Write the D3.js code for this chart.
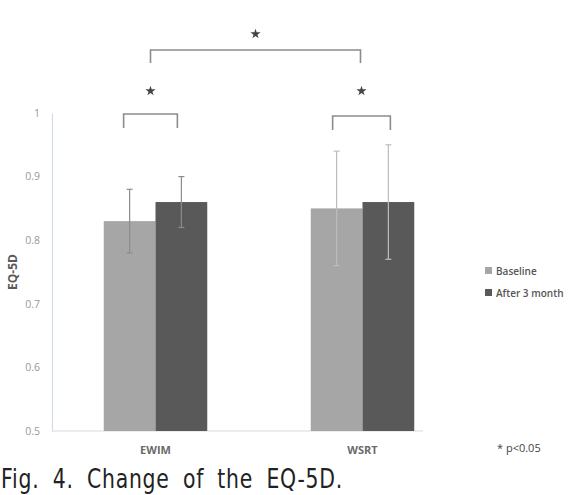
<!DOCTYPE html>
<html>
<head>
<meta charset="utf-8">
<script src="https://cdn.jsdelivr.net/npm/d3@7"></script>
<style>
  body { margin: 0; background: #fff; }
  svg { display: block; }
</style>
</head>
<body>
<div id="chart-area"></div>
<script>
// data
var groups = ["EWIM", "WSRT"];
var seriesNames = ["Baseline", "After 3 month"];
var baselineVals = [0.83, 0.85];
var afterVals = [0.86, 0.86];
var baselineErr = [0.05, 0.09];
var afterErr = [0.04, 0.09];
var yTicks = [0.5, 0.6, 0.7, 0.8, 0.9, 1];

var width = 574, height = 495;
var colors = ["#a6a6a6", "#595959"];

var svg = d3.select("#chart-area").append("svg")
    .attr("width", width)
    .attr("height", height);

// Scales
var x = d3.scaleBand().domain(groups).range([52, 466]).paddingInner(0.5).paddingOuter(0.25);
var xs = d3.scaleBand().domain(seriesNames).range([0, x.bandwidth()]);
var y = d3.scaleLinear().domain([0.5, 1]).range([431, 113]);

// y axis
var yAxis = d3.axisLeft(y).tickValues(yTicks).tickSize(0).tickPadding(12)
    .tickFormat(d => d === 1 ? "1" : d3.format(".1f")(d));
var yg = svg.append("g").attr("transform", "translate(52,0)").call(yAxis);
yg.select(".domain").attr("stroke", "#cfdbe6").attr("stroke-width", 1.2);
yg.selectAll("text").attr("fill", "#999").style("font-family", "Open Sans, sans-serif").style("font-size", "10.5px");

// bottom line
svg.append("line").attr("x1", 52).attr("x2", 423).attr("y1", y(0.5)).attr("y2", y(0.5))
    .attr("stroke", "#d9d9d9").attr("stroke-width", 1);

var rows = groups.map((g, i) => ({
    group: g,
    vals: [
        { s: seriesNames[0], v: baselineVals[i], e: baselineErr[i] },
        { s: seriesNames[1], v: afterVals[i], e: afterErr[i] }
    ]
}));

var gg = svg.selectAll("g.grp").data(rows).enter().append("g")
    .attr("class", "grp")
    .attr("transform", d => `translate(${x(d.group)},0)`);

gg.selectAll("rect").data(d => d.vals).enter().append("rect")
    .attr("x", d => xs(d.s))
    .attr("width", xs.bandwidth())
    .attr("y", d => y(d.v))
    .attr("height", d => y(0.5) - y(d.v))
    .attr("fill", (d, i) => colors[i]);

// error bars
var errColor = (gi) => gi === 0 ? "#8c8c8c" : "#bdbdbd";
gg.each(function(row, gi) {
    var g = d3.select(this);
    row.vals.forEach(function(d) {
        var cx = xs(d.s) + xs.bandwidth() / 2;
        var c = errColor(gi);
        g.append("line").attr("x1", cx).attr("x2", cx)
            .attr("y1", y(d.v + d.e)).attr("y2", y(d.v - d.e))
            .attr("stroke", c).attr("stroke-width", 1.2);
        [d.v + d.e, d.v - d.e].forEach(function(t) {
            g.append("line").attr("x1", cx - 3).attr("x2", cx + 3)
                .attr("y1", y(t)).attr("y2", y(t))
                .attr("stroke", c).attr("stroke-width", 1.2);
        });
    });
});

// category labels
svg.selectAll("text.cat").data(groups).enter().append("text")
    .attr("class", "cat")
    .attr("x", d => x(d) + x.bandwidth() / 2)
    .attr("y", 454)
    .attr("text-anchor", "middle")
    .attr("fill", "#6b6b6b")
    .style("font-family", "Open Sans, sans-serif")
    .style("font-size", "11px")
    .style("font-weight", "bold")
    .text(d => d);

// y label
svg.append("text")
    .attr("transform", "rotate(-90)")
    .attr("x", -272).attr("y", 17)
    .attr("text-anchor", "middle")
    .attr("fill", "#595959")
    .style("font-family", "Open Sans, sans-serif")
    .style("font-size", "12px")
    .style("font-weight", "bold")
    .text("EQ-5D");

// significance brackets
var star = d3.symbol().type(d3.symbolStar).size(32);
function bracket(x1, x2, yTop, drop, starY) {
    svg.append("path")
        .attr("d", `M${x1},${yTop + drop}V${yTop}H${x2}V${yTop + drop}`)
        .attr("fill", "none").attr("stroke", "#8c8c8c").attr("stroke-width", 1.6);
    svg.append("path")
        .attr("d", star())
        .attr("transform", `translate(${(x1 + x2) / 2},${starY})`)
        .attr("fill", "#444");
}
var cx = (g, s) => x(g) + xs(s) + xs.bandwidth() / 2;
bracket(x("EWIM") + x.bandwidth() / 2 - 5, x("WSRT") + x.bandwidth() / 2 - 2, 50, 13, 34);
bracket(cx("EWIM", seriesNames[0]) - 6, cx("EWIM", seriesNames[1]) - 4, 114, 14, 91);
bracket(cx("WSRT", seriesNames[0]) - 4, cx("WSRT", seriesNames[1]) + 2, 116, 14, 91);

// legend
var legend = svg.append("g").attr("transform", "translate(485,267)");
seriesNames.forEach((s, i) => {
    var row = legend.append("g").attr("transform", `translate(0,${i * 22})`);
    row.append("rect").attr("width", 7).attr("height", 7).attr("fill", colors[i]);
    row.append("text").attr("x", 11).attr("y", 7.5)
        .attr("fill", "#555")
        .style("font-family", "Open Sans, sans-serif")
        .style("font-size", "10px")
        .style("font-weight", "600")
        .text(s);
});

// note
svg.append("text").attr("x", 497).attr("y", 452)
    .attr("fill", "#444")
    .style("font-family", "Open Sans, sans-serif")
    .style("font-size", "11px")
    .text("* p<0.05");

// caption
svg.append("text").attr("x", 1).attr("y", 487.5)
    .attr("fill", "#222")
    .attr("textLength", 342)
    .attr("lengthAdjust", "spacingAndGlyphs")
    .style("font-family", "DejaVu Sans, sans-serif")
    .style("font-size", "27px")
    .style("letter-spacing", "1px")
    .style("word-spacing", "8px")
    .text("Fig. 4. Change of the EQ-5D.");
</script>
</body>
</html>
